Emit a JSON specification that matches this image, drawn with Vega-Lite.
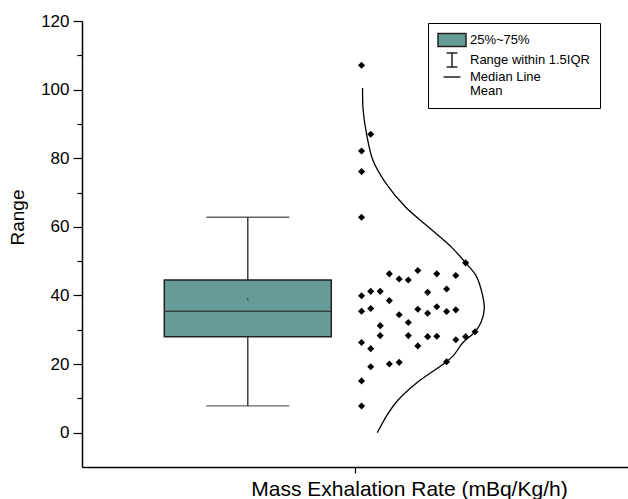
{
  "$schema": "https://vega.github.io/schema/vega-lite/v6.json",
  "width": 546,
  "height": 446,
  "autosize": "none",
  "padding": {"left": 82, "top": 21, "right": 0, "bottom": 32},
  "background": "white",
  "config": {
    "view": {"stroke": null},
    "font": "Liberation Sans",
    "axis": {"domainColor": "black", "tickColor": "black", "labelColor": "black", "titleColor": "black", "grid": false, "labelFont": "Liberation Sans", "titleFont": "Liberation Sans", "titleFontWeight": "normal"}
  },
  "datasets": {
    "box": [{"center": 0.6, "q1": 28.0, "q3": 44.5, "median": 35.4, "mean": 38.9, "lower": 7.8, "upper": 62.8}],
    "minor": [{"v": 10}, {"v": 110}],
    "pts": [
      {"x": 1.0245, "y": 107.1}, {"x": 1.0586, "y": 87.0}, {"x": 1.0245, "y": 82.1}, {"x": 1.0245, "y": 76.1}, {"x": 1.0245, "y": 62.8},
      {"x": 1.4128, "y": 49.5}, {"x": 1.1282, "y": 46.3}, {"x": 1.2344, "y": 47.3}, {"x": 1.3051, "y": 46.3}, {"x": 1.3762, "y": 45.8}, {"x": 1.1648, "y": 44.8}, {"x": 1.1989, "y": 44.5},
      {"x": 1.0245, "y": 39.9}, {"x": 1.0586, "y": 41.2}, {"x": 1.0941, "y": 41.2}, {"x": 1.2711, "y": 40.9}, {"x": 1.3418, "y": 41.9}, {"x": 1.1282, "y": 38.5},
      {"x": 1.0245, "y": 35.4}, {"x": 1.0586, "y": 36.2}, {"x": 1.1648, "y": 34.4}, {"x": 1.2344, "y": 36.0}, {"x": 1.2711, "y": 34.8}, {"x": 1.3051, "y": 36.7}, {"x": 1.3418, "y": 35.3}, {"x": 1.3762, "y": 35.8},
      {"x": 1.1989, "y": 32.1}, {"x": 1.0941, "y": 31.2}, {"x": 1.0941, "y": 28.3}, {"x": 1.1989, "y": 28.3}, {"x": 1.2711, "y": 28.0}, {"x": 1.3051, "y": 28.1}, {"x": 1.3762, "y": 27.1}, {"x": 1.4128, "y": 28.0}, {"x": 1.4480, "y": 29.4},
      {"x": 1.2344, "y": 25.3}, {"x": 1.0245, "y": 26.3}, {"x": 1.0586, "y": 24.5}, {"x": 1.3418, "y": 20.7}, {"x": 1.0586, "y": 19.2}, {"x": 1.1282, "y": 20.0}, {"x": 1.1648, "y": 20.5}, {"x": 1.0245, "y": 15.1}, {"x": 1.0245, "y": 7.8}
    ],
    "curve": [
      {"i": 1, "x": 1.0282, "y": 100.5}, {"i": 2, "x": 1.0304, "y": 94.0}, {"i": 3, "x": 1.0429, "y": 87.2}, {"i": 4, "x": 1.0670, "y": 79.4},
      {"i": 5, "x": 1.1161, "y": 72.6}, {"i": 6, "x": 1.1894, "y": 65.7}, {"i": 7, "x": 1.2747, "y": 59.9}, {"i": 8, "x": 1.3601, "y": 54.1},
      {"i": 9, "x": 1.4128, "y": 49.5}, {"i": 10, "x": 1.4516, "y": 45.8}, {"i": 11, "x": 1.4762, "y": 40.0}, {"i": 12, "x": 1.4824, "y": 36.1},
      {"i": 13, "x": 1.4700, "y": 32.1}, {"i": 14, "x": 1.4458, "y": 29.2}, {"i": 15, "x": 1.4029, "y": 26.3}, {"i": 16, "x": 1.3663, "y": 22.4},
      {"i": 17, "x": 1.3297, "y": 20.0}, {"i": 18, "x": 1.2319, "y": 14.6}, {"i": 19, "x": 1.1586, "y": 9.3}, {"i": 20, "x": 1.1220, "y": 5.4},
      {"i": 21, "x": 1.0832, "y": 0.0}
    ],
    "legend": [{"item": "25%~75%"}, {"item": "Range within 1.5IQR"}, {"item": "Median Line"}, {"item": "Mean"}]
  },
  "resolve": {"axis": {"y": "independent"}},
  "layer": [
    {
      "data": {"name": "box"},
      "mark": {"type": "rule", "color": "#222222", "strokeWidth": 1.3},
      "encoding": {
        "x": {"field": "center", "type": "quantitative", "title": "Mass Exhalation Rate (mBq/Kg/h)",
          "scale": {"domain": [0, 2], "nice": false, "zero": false},
          "axis": {"values": [1], "labels": false, "tickSize": 6, "domainWidth": 1.5, "tickWidth": 1.2, "titleFontSize": 21, "titleX": 327, "titleY": 28, "titleBaseline": "alphabetic"}},
        "y": {"field": "lower", "type": "quantitative", "title": "Range",
          "scale": {"domain": [-10, 120], "nice": false, "zero": false},
          "axis": {"values": [0, 20, 40, 60, 80, 100, 120], "tickSize": 9,
            "labelFontSize": 17, "labelPadding": 4, "domainWidth": 1.5, "tickWidth": 1.2,
            "titleFontSize": 19, "titleX": -55, "titleY": 196, "titleBaseline": "bottom"}},
        "y2": {"field": "upper"}
      }
    },
    {
      "data": {"name": "minor"},
      "mark": {"type": "point", "opacity": 0},
      "encoding": {
        "y": {"field": "v", "type": "quantitative", "title": null,
          "axis": {"orient": "left", "values": [10, 30, 50, 70, 90, 110], "tickSize": 5, "labels": false, "domain": false, "tickWidth": 1.2}}
      }
    },
    {
      "data": {"name": "box"},
      "mark": {"type": "bar", "size": 167, "fill": "#679b97", "stroke": "#222222", "strokeWidth": 1.5},
      "encoding": {
        "x": {"field": "center", "type": "quantitative"},
        "y": {"field": "q1", "type": "quantitative", "axis": null},
        "y2": {"field": "q3"}
      }
    },
    {
      "data": {"name": "box"},
      "mark": {"type": "tick", "orient": "horizontal", "size": 167, "thickness": 1.5, "color": "#222222"},
      "encoding": {
        "x": {"field": "center", "type": "quantitative"},
        "y": {"field": "median", "type": "quantitative", "axis": null}
      }
    },
    {
      "data": {"name": "box"},
      "mark": {"type": "tick", "orient": "horizontal", "size": 83, "thickness": 1.3, "color": "#222222"},
      "encoding": {
        "x": {"field": "center", "type": "quantitative"},
        "y": {"field": "lower", "type": "quantitative", "axis": null}
      }
    },
    {
      "data": {"name": "box"},
      "mark": {"type": "tick", "orient": "horizontal", "size": 83, "thickness": 1.3, "color": "#222222"},
      "encoding": {
        "x": {"field": "center", "type": "quantitative"},
        "y": {"field": "upper", "type": "quantitative", "axis": null}
      }
    },
    {
      "data": {"name": "box"},
      "mark": {"type": "tick", "orient": "vertical", "size": 3, "thickness": 1, "color": "#222222"},
      "encoding": {
        "x": {"field": "center", "type": "quantitative"},
        "y": {"field": "mean", "type": "quantitative", "axis": null}
      }
    },
    {
      "data": {"name": "curve"},
      "mark": {"type": "line", "color": "black", "strokeWidth": 1.3, "interpolate": "catmull-rom"},
      "encoding": {
        "x": {"field": "x", "type": "quantitative"},
        "y": {"field": "y", "type": "quantitative", "axis": null},
        "order": {"field": "i", "type": "quantitative"}
      }
    },
    {
      "data": {"name": "pts"},
      "mark": {"type": "point", "shape": "diamond", "size": 50, "filled": true, "color": "black", "opacity": 1},
      "encoding": {
        "x": {"field": "x", "type": "quantitative"},
        "y": {"field": "y", "type": "quantitative", "axis": null}
      }
    },
    {
      "data": {"name": "legend"},
      "mark": {"type": "point", "opacity": 0},
      "encoding": {
        "shape": {"field": "item", "type": "nominal",
          "scale": {"domain": ["25%~75%", "Range within 1.5IQR", "Median Line", "Mean"],
            "range": ["M-2.33,-1.1H2.33V1.1H-2.33Z", "M-0.9,-1.15H0.9M0,-1.15V1.15M-0.9,1.15H0.9", "M-1.4,0H1.4", "M0,0"]},
          "legend": {"orient": "none", "legendX": 346, "legendY": 2, "title": null, "strokeColor": "black", "fillColor": "white",
            "padding": 10, "labelFontSize": 13, "labelFont": "Liberation Sans", "labelColor": "black", "symbolSize": 144,
            "rowPadding": 0, "symbolStrokeWidth": 1.5, "symbolOpacity": 1, "symbolOffset": 7, "labelOffset": 11}},
        "fill": {"field": "item", "type": "nominal",
          "scale": {"domain": ["25%~75%", "Range within 1.5IQR", "Median Line", "Mean"],
            "range": ["#679b97", "transparent", "transparent", "transparent"]}},
        "stroke": {"field": "item", "type": "nominal",
          "scale": {"domain": ["25%~75%", "Range within 1.5IQR", "Median Line", "Mean"],
            "range": ["#222222", "#222222", "#222222", "transparent"]}}
      }
    }
  ]
}
